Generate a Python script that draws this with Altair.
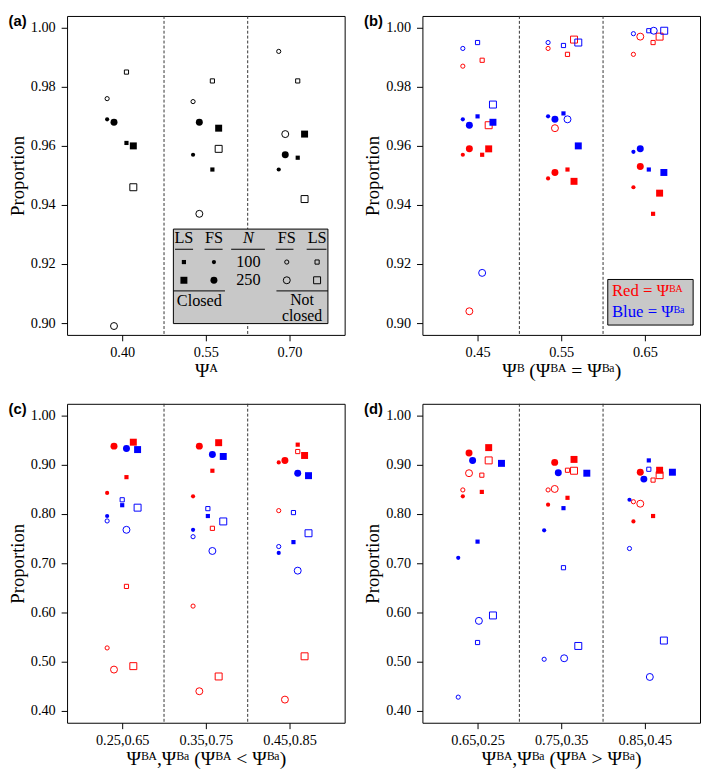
import altair as alt
import pandas as pd

FONT = "Liberation Serif"
RED, BLUE, BLACK = "#ff0000", "#0000ff", "#000000"

# series order: FS closed 100, FS closed 250, LS closed 100, LS closed 250,
#               FS not-closed 100, FS not-closed 250, LS not-closed 100, LS not-closed 250
SERIES_METHOD = ["FS", "FS", "LS", "LS", "FS", "FS", "LS", "LS"]
SERIES_N = [100, 250, 100, 250, 100, 250, 100, 250]
SERIES_CLOSED = [True, True, True, True, False, False, False, False]
SEPARATORS = [1.5, 2.5]

# ---- panel (a)
A_TICKS = ["0.40", "0.55", "0.70"]
A_VALUES = [
    [0.969, 0.968, 0.961, 0.960, 0.976, 0.899, 0.985, 0.946],
    [0.957, 0.968, 0.952, 0.966, 0.975, 0.937, 0.982, 0.959],
    [0.952, 0.957, 0.956, 0.964, 0.992, 0.964, 0.982, 0.942],
]
A_JITTER = [
    [-0.180, -0.098, 0.051, 0.133, -0.180, -0.098, 0.051, 0.133],
    [-0.153, -0.078, 0.078, 0.153, -0.153, -0.078, 0.078, 0.153],
    [-0.129, -0.051, 0.098, 0.180, -0.129, -0.051, 0.098, 0.180],
]

# ---- panel (b)
B_TICKS = ["0.45", "0.55", "0.65"]
B_RED = [
    [0.957, 0.959, 0.957, 0.959, 0.987, 0.904, 0.989, 0.967],
    [0.949, 0.951, 0.952, 0.948, 0.993, 0.966, 0.991, 0.996],
    [0.946, 0.953, 0.937, 0.944, 0.991, 0.997, 0.995, 0.997],
]
B_RED_JITTER = [
    [-0.176, -0.098, 0.055, 0.133, -0.176, -0.098, 0.055, 0.133],
    [-0.157, -0.075, 0.075, 0.153, -0.157, -0.075, 0.075, 0.153],
    [-0.137, -0.055, 0.098, 0.176, -0.137, -0.055, 0.098, 0.176],
]
B_BLUE = [
    [0.969, 0.967, 0.970, 0.968, 0.993, 0.917, 0.995, 0.974],
    [0.970, 0.969, 0.971, 0.960, 0.995, 0.969, 0.994, 0.995],
    [0.958, 0.959, 0.952, 0.951, 0.998, 0.999, 0.999, 0.999],
]
B_BLUE_JITTER = [
    [-0.176, -0.098, 0.000, 0.184, -0.176, 0.055, 0.000, 0.184],
    [-0.157, -0.075, 0.027, 0.204, -0.157, 0.075, 0.027, 0.204],
    [-0.137, -0.055, 0.047, 0.227, -0.137, 0.106, 0.047, 0.231],
]

# ---- panel (c)
C_TICKS = ["0.25,0.65", "0.35,0.75", "0.45,0.85"]
C_RED = [
    [0.843, 0.938, 0.875, 0.946, 0.528, 0.484, 0.653, 0.491],
    [0.836, 0.938, 0.888, 0.945, 0.613, 0.440, 0.771, 0.470],
    [0.905, 0.909, 0.941, 0.919, 0.807, 0.423, 0.927, 0.511],
]
C_RED_JITTER = [
    [-0.180, -0.098, 0.051, 0.133, -0.180, -0.098, 0.051, 0.133],
    [-0.153, -0.078, 0.078, 0.153, -0.153, -0.078, 0.078, 0.153],
    [-0.129, -0.055, 0.098, 0.180, -0.129, -0.055, 0.098, 0.180],
]
C_BLUE = [
    [0.796, 0.933, 0.818, 0.931, 0.786, 0.768, 0.829, 0.813],
    [0.768, 0.921, 0.796, 0.917, 0.754, 0.725, 0.811, 0.785],
    [0.721, 0.883, 0.743, 0.878, 0.734, 0.685, 0.803, 0.761],
]
C_BLUE_JITTER = [
    [-0.180, 0.051, 0.000, 0.184, -0.180, 0.051, 0.000, 0.184],
    [-0.153, 0.078, 0.024, 0.208, -0.153, 0.078, 0.024, 0.208],
    [-0.129, 0.098, 0.047, 0.227, -0.129, 0.098, 0.047, 0.227],
]

# ---- panel (d)
D_TICKS = ["0.65,0.25", "0.75,0.35", "0.85,0.45"]
D_RED = [
    [0.836, 0.924, 0.845, 0.935, 0.849, 0.883, 0.879, 0.909],
    [0.819, 0.905, 0.833, 0.911, 0.849, 0.851, 0.889, 0.888],
    [0.785, 0.885, 0.796, 0.889, 0.825, 0.821, 0.869, 0.879],
]
D_RED_JITTER = [
    [-0.176, -0.102, 0.051, 0.133, -0.176, -0.102, 0.051, 0.133],
    [-0.157, -0.078, 0.075, 0.153, -0.157, -0.078, 0.075, 0.153],
    [-0.137, -0.055, 0.098, 0.176, -0.137, -0.055, 0.098, 0.176],
]
D_BLUE = [
    [0.711, 0.909, 0.744, 0.903, 0.428, 0.583, 0.539, 0.594],
    [0.767, 0.884, 0.812, 0.883, 0.505, 0.507, 0.691, 0.532],
    [0.829, 0.871, 0.909, 0.885, 0.730, 0.469, 0.891, 0.543],
]
D_BLUE_JITTER = [
    [-0.231, -0.059, 0.000, 0.286, -0.231, 0.016, 0.000, 0.184],
    [-0.204, -0.035, 0.027, 0.306, -0.204, 0.035, 0.027, 0.204],
    [-0.184, -0.012, 0.047, 0.329, -0.184, 0.059, 0.047, 0.227],
]

Y_TICKS_TOP = [0.90, 0.92, 0.94, 0.96, 0.98, 1.00]
Y_TICKS_BOTTOM = [0.40, 0.50, 0.60, 0.70, 0.80, 0.90, 1.00]

W, H = 282, 324
SMALL, LARGE = 18, 50
XDOM = [0.341, 3.659]
ONE = pd.DataFrame({"k": [0]})


def build(values, jitter, colour):
    rows = []
    for g, (vals, offs) in enumerate(zip(values, jitter)):
        for s in range(8):
            rows.append(dict(x=g + 1 + offs[s], value=vals[s], method=SERIES_METHOD[s],
                             N=SERIES_N[s], closed=SERIES_CLOSED[s], colour=colour))
    return pd.DataFrame(rows)


def txt(s, px, py, size=16.5, color=BLACK, align="center", style="normal"):
    return alt.Chart(ONE).mark_text(text=s, font=FONT, fontSize=size, color=color, align=align,
                                    baseline="middle", fontStyle=style).encode(
        x=alt.value(px), y=alt.value(py))


def hline(x1, x2, py):
    return alt.Chart(ONE).mark_rule(color=BLACK, strokeWidth=1).encode(
        x=alt.value(x1), x2=alt.value(x2), y=alt.value(py))


def box(x1, x2, y1, y2):
    return alt.Chart(ONE).mark_rect(fill="#c8c8c8", stroke=BLACK, strokeWidth=1).encode(
        x=alt.value(x1), x2=alt.value(x2), y=alt.value(y1), y2=alt.value(y2))


def sym(shape, filled, size, px, py):
    return alt.Chart(ONE).mark_point(shape=shape, filled=filled, size=size, color=BLACK,
                                     opacity=1, strokeWidth=1).encode(
        x=alt.value(px), y=alt.value(py))


def panel(df, ticks, ydom, yticks, xtitle, label, extra):
    label_expr = "[" + ",".join("'%s'" % t for t in ticks) + "][datum.value - 1]"
    x = alt.X("x:Q", scale=alt.Scale(domain=XDOM, nice=False, zero=False),
              axis=alt.Axis(values=[1, 2, 3], labelExpr=label_expr, title=xtitle,
                            labelFont=FONT, titleFont=FONT, labelFontSize=14.5,
                            titleFontSize=20, labelPadding=5, titlePadding=2))
    y = alt.Y("value:Q", scale=alt.Scale(domain=ydom, nice=False, zero=False),
              axis=alt.Axis(values=yticks, format=".2f", title="Proportion",
                            labelFont=FONT, titleFont=FONT, labelFontSize=14.5,
                            titleFontSize=19, labelPadding=6, titlePadding=3))
    color = alt.Color("colour:N", scale=alt.Scale(domain=["A", "BA", "Ba"],
                                                  range=[BLACK, RED, BLUE]), legend=None)
    shape = alt.Shape("method:N", scale=alt.Scale(domain=["FS", "LS"],
                                                  range=["circle", "square"]), legend=None)
    size = alt.Size("N:Q", scale=alt.Scale(domain=[100, 250], range=[SMALL, LARGE]), legend=None)
    base = alt.Chart(df).encode(x=x, y=y, color=color, shape=shape, size=size)
    closed = base.transform_filter("datum.closed").mark_point(filled=True, opacity=1)
    opened = base.transform_filter("!datum.closed").mark_point(filled=False, opacity=1,
                                                               strokeWidth=1)
    seps = alt.Chart(pd.DataFrame({"x": SEPARATORS})).mark_rule(
        strokeDash=[3, 2], color="#333333", strokeWidth=1).encode(x=x)
    layers = [seps, opened, closed] + extra
    return alt.layer(*layers).properties(
        width=W, height=H,
        title=alt.TitleParams(label, anchor="start", frame="bounds", font="Liberation Sans",
                              fontSize=15, fontWeight="bold", offset=-14, color=BLACK))


# legend for panel (a)
leg_a = [
    box(108, 265, 216.5, 312.5),
    txt("LS", 118.7, 225.5), txt("FS", 149.2, 225.5), txt("N", 184.2, 225.5, style="italic"),
    txt("FS", 223.2, 225.5), txt("LS", 254, 225.5),
    hline(109.7, 128, 237), hline(139.7, 158, 237), hline(166.7, 201, 237),
    hline(212, 230, 237), hline(243.4, 263.5, 237),
    sym("square", True, SMALL, 118.7, 250), sym("circle", True, SMALL, 149.2, 250),
    txt("100", 184.2, 250), sym("circle", False, SMALL, 223.2, 250),
    sym("square", False, SMALL, 254, 250),
    sym("square", True, LARGE, 118.7, 268.5), sym("circle", True, LARGE, 149.2, 268.5),
    txt("250", 184.2, 268.5), sym("circle", False, LARGE, 223.2, 268.5),
    sym("square", False, LARGE, 254, 268.5),
    hline(108, 160.4, 279.3), hline(212.7, 265, 279.3),
    txt("Closed", 134.4, 290), txt("Not", 238.7, 288.5, size=16), txt("closed", 238.7, 305, size=16),
]

# legend for panel (b)
leg_b = [
    box(188.3, 275, 267.7, 314),
    txt("Red = Ψᴮᴬ", 192.5, 279, size=17, color=RED, align="left"),
    txt("Blue = Ψᴮᵃ", 192.5, 301, size=17, color=BLUE, align="left"),
]

df_a = build(A_VALUES, A_JITTER, "A")
df_b = pd.concat([build(B_RED, B_RED_JITTER, "BA"), build(B_BLUE, B_BLUE_JITTER, "Ba")])
df_c = pd.concat([build(C_RED, C_RED_JITTER, "BA"), build(C_BLUE, C_BLUE_JITTER, "Ba")])
df_d = pd.concat([build(D_RED, D_RED_JITTER, "BA"), build(D_BLUE, D_BLUE_JITTER, "Ba")])

pa = panel(df_a, A_TICKS, [0.896, 1.004], Y_TICKS_TOP, "Ψᴬ", "(a)", leg_a)
pb = panel(df_b, B_TICKS, [0.896, 1.004], Y_TICKS_TOP, "Ψᴮ (Ψᴮᴬ = Ψᴮᵃ)", "(b)", leg_b)
pc = panel(df_c, C_TICKS, [0.376, 1.024], Y_TICKS_BOTTOM, "Ψᴮᴬ,Ψᴮᵃ (Ψᴮᴬ < Ψᴮᵃ)", "(c)", [])
pd_ = panel(df_d, D_TICKS, [0.376, 1.024], Y_TICKS_BOTTOM, "Ψᴮᴬ,Ψᴮᵃ (Ψᴮᴬ > Ψᴮᵃ)", "(d)", [])

chart = alt.vconcat(
    alt.hconcat(pa, pb, spacing=18),
    alt.hconcat(pc, pd_, spacing=18),
    spacing=21,
).properties(
    padding={"left": 0, "top": 0, "right": 0, "bottom": 0}
).configure_view(
    stroke=BLACK, strokeWidth=1
).configure_axis(
    domain=False, grid=False, tickColor=BLACK, tickSize=6, tickWidth=1,
    labelColor=BLACK, labelFont=FONT, labelFontSize=14.5,
    labelFlush=False, labelOverlap=False,
    titleColor=BLACK, titleFont=FONT, titleFontWeight="normal",
)

chart.save("out.html", embed_options={"renderer": "svg", "actions": False})
